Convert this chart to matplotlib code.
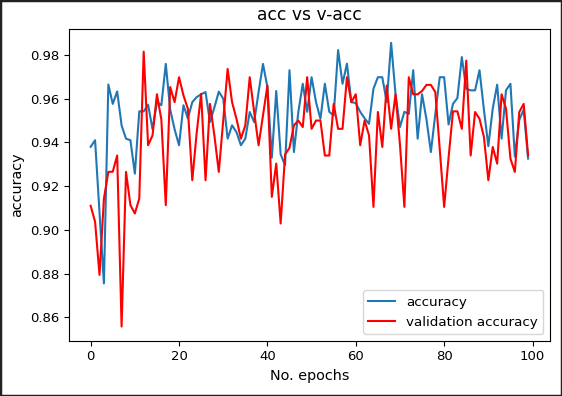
import matplotlib
matplotlib.use("Agg")
import matplotlib.pyplot as plt
from matplotlib.patches import Rectangle

epochs = list(range(100))

accuracy = [
    0.938, 0.941, 0.908, 0.8755, 0.9665, 0.9576, 0.9633, 0.9478, 0.9417, 0.941,
    0.9257, 0.9542, 0.9542, 0.9572, 0.946, 0.9584, 0.957, 0.9759, 0.955, 0.946,
    0.9387, 0.957, 0.951, 0.9584, 0.9607, 0.962, 0.963, 0.9493, 0.956, 0.9632,
    0.960, 0.9417, 0.9478, 0.9447, 0.9387, 0.9417, 0.9539, 0.9493, 0.963, 0.9759,
    0.9653, 0.933, 0.9635, 0.9345, 0.9296, 0.973, 0.9356, 0.9539, 0.9668, 0.954,
    0.9698, 0.9584, 0.9508, 0.9668, 0.954, 0.9523, 0.9822, 0.9668, 0.976, 0.9584,
    0.958, 0.954, 0.951, 0.9485, 0.9645, 0.9698, 0.9698, 0.9584, 0.9855, 0.962,
    0.947, 0.954, 0.953, 0.973, 0.9417, 0.962, 0.9505, 0.9356, 0.953, 0.9698,
    0.9698, 0.9482, 0.9576, 0.9603, 0.979, 0.9645, 0.9638, 0.9638, 0.973, 0.955,
    0.9383, 0.9555, 0.9664, 0.9417, 0.9638, 0.9668, 0.9335, 0.9503, 0.955, 0.9326,
]

val_accuracy = [
    0.911, 0.9037, 0.8794, 0.9143, 0.9265, 0.9266, 0.934, 0.8558, 0.9265, 0.9113,
    0.9075, 0.9143, 0.9815, 0.9387, 0.9432, 0.962, 0.9504, 0.9113, 0.9653, 0.9584,
    0.9698, 0.9615, 0.9554, 0.9227, 0.9445, 0.9622, 0.9227, 0.9576, 0.9432, 0.9265,
    0.950, 0.9736, 0.9584, 0.9508, 0.9417, 0.9478, 0.9698, 0.9539, 0.9387, 0.9523,
    0.966, 0.9151, 0.9303, 0.9029, 0.9345, 0.9375, 0.9478, 0.950, 0.947, 0.9698,
    0.9462, 0.950, 0.950, 0.934, 0.934, 0.9576, 0.9462, 0.9462, 0.9698, 0.9584,
    0.962, 0.9387, 0.950, 0.9432, 0.9105, 0.9539, 0.9379, 0.966, 0.9462, 0.962,
    0.939, 0.9105, 0.9698, 0.962, 0.962, 0.9635, 0.9663, 0.9663, 0.963, 0.937,
    0.9105, 0.933, 0.9542, 0.9542, 0.9462, 0.9774, 0.934, 0.9539, 0.9508, 0.9425,
    0.9227, 0.9379, 0.9303, 0.962, 0.9554, 0.9326, 0.9265, 0.9539, 0.9576, 0.934,
]

fig = plt.figure(figsize=(5.62, 3.96), dpi=100)
ax = fig.add_axes([0.1224, 0.1396, 0.8562, 0.7879])

ax.plot(epochs, accuracy, color='#1f77b4', lw=1.5, label='accuracy')
ax.plot(epochs, val_accuracy, color='red', lw=1.5, label='validation accuracy')

ax.set_title('acc vs v-acc', fontsize=12.3)
ax.set_xlabel('No. epochs', fontsize=10.4)
ax.set_ylabel('accuracy', fontsize=10.4)
ax.set_xticks([0, 20, 40, 60, 80, 100])
ax.set_yticks([0.86, 0.88, 0.90, 0.92, 0.94, 0.96, 0.98])
ax.tick_params(labelsize=9.5)
ax.legend(loc='lower right', fontsize=9.7)

fig.patches.append(Rectangle((0, 0), 1, 1, transform=fig.transFigure,
                             fill=False, edgecolor='#222222', linewidth=2.5))

fig.savefig('out.png', dpi=100)
